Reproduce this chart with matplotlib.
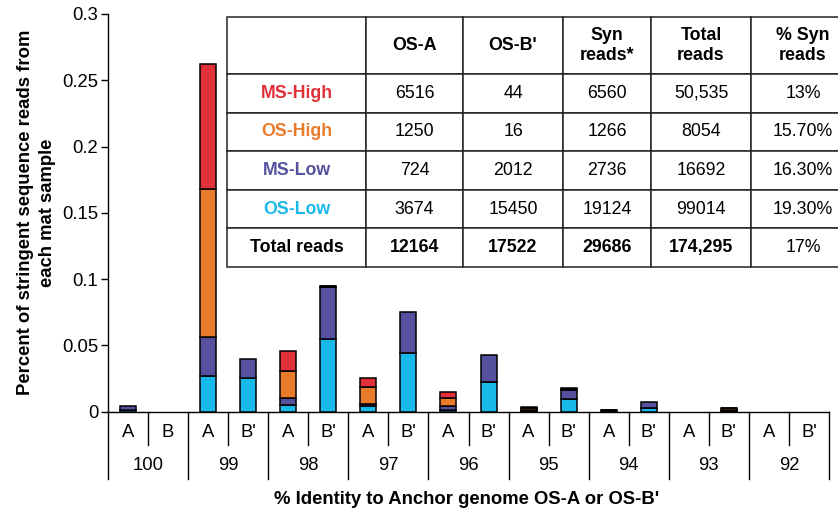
import matplotlib
matplotlib.use("Agg")
import matplotlib.pyplot as plt
import numpy as np

plt.rcParams['font.family'] = ['Liberation Sans', 'DejaVu Sans']

# bar slots, left to right
identity = ['100', '99', '98', '97', '96', '95', '94', '93', '92']
genome = ['A', 'B', 'A', "B'", 'A', "B'", 'A', "B'", 'A', "B'",
          'A', "B'", 'A', "B'", 'A', "B'", 'A', "B'"]

# stacked segments, bottom to top
os_low = [0.0008, 0, 0.0266, 0.025, 0.0047, 0.0547, 0.0038, 0.044, 0.0015,
          0.022, 0.0005, 0.0095, 0.0003, 0.0025, 0, 0.0005, 0, 0]
ms_low = [0.0032, 0, 0.030, 0.015, 0.0056, 0.039, 0.0022, 0.031, 0.003,
          0.021, 0.001, 0.007, 0.0005, 0.0045, 0, 0.001, 0, 0]
os_high = [0, 0, 0.111, 0, 0.020, 0.0008, 0.0126, 0, 0.0055,
           0, 0.0008, 0.0008, 0.0002, 0, 0, 0.0008, 0, 0]
ms_high = [0, 0, 0.095, 0, 0.015, 0.0004, 0.0064, 0, 0.005,
           0, 0.0008, 0.0004, 0.0002, 0, 0, 0.0003, 0, 0]

# inset table
samples = ['MS-High', 'OS-High', 'MS-Low', 'OS-Low']
col_heads = ['', 'OS-A', "OS-B'", 'Syn\nreads*', 'Total\nreads', '% Syn\nreads']
os_a_reads = ['6516', '1250', '724', '3674']
os_b_reads = ['44', '16', '2012', '15450']
syn_reads = ['6560', '1266', '2736', '19124']
total_reads = ['50,535', '8054', '16692', '99014']
pct_syn = ['13%', '15.70%', '16.30%', '19.30%']
total_row = ['Total reads', '12164', '17522', '29686', '174,295', '17%']

colors = {'OS-Low': '#18b9e9', 'MS-Low': '#55519f',
          'OS-High': '#ea7b2a', 'MS-High': '#e2303a'}

fs = 13.3

fig = plt.figure(figsize=(8.38, 5.13), dpi=100)
ax = fig.add_axes([108 / 838, 101.5 / 513, 721 / 838, 397.5 / 513])

x = np.arange(len(genome))
bottom = np.zeros(len(genome))
for name, vals in [('OS-Low', os_low), ('MS-Low', ms_low),
                   ('OS-High', os_high), ('MS-High', ms_high)]:
    vals = np.array(vals)
    keep = vals > 0
    ax.bar(x[keep], vals[keep], 0.4, bottom=bottom[keep], color=colors[name],
           edgecolor='black', linewidth=1.1, zorder=3)
    bottom += vals

ax.set_xlim(-0.5, len(genome) - 0.5)
ax.set_ylim(0, 0.3)
ax.set_yticks([0, 0.05, 0.1, 0.15, 0.2, 0.25, 0.3])
ax.set_yticklabels(['0', '0.05', '0.1', '0.15', '0.2', '0.25', '0.3'])
ax.tick_params(axis='y', labelsize=fs, length=5, width=1, pad=2)
ax.set_xticks([])
ax.spines['top'].set_visible(False)
ax.spines['right'].set_visible(False)
ax.spines['left'].set_linewidth(1)
ax.spines['bottom'].set_linewidth(1)

ax.set_ylabel('Percent of stringent sequence reads from\neach mat sample',
              fontsize=fs, fontweight='bold', labelpad=4, linespacing=1.4)

# two-level category axis below the bars
tr = ax.get_xaxis_transform()
for i in range(len(genome) + 1):
    edge = i - 0.5
    low = -0.170 if i % 2 == 0 else -0.084
    ax.plot([edge, edge], [0, low], color='black', lw=1,
            transform=tr, clip_on=False)
for i, g in enumerate(genome):
    ax.text(i, -0.052, g, transform=tr, ha='center', va='center',
            fontsize=fs)
for j, lab in enumerate(identity):
    ax.text(2 * j + 0.5, -0.137, lab, transform=tr, ha='center',
            va='center', fontsize=fs)

fig.text(467 / 838, 13 / 513, "% Identity to Anchor genome OS-A or OS-B'",
         ha='center', va='center', fontsize=fs, fontweight='bold')

# inset table
cell_text = [col_heads]
for k in range(4):
    cell_text.append([samples[k], os_a_reads[k], os_b_reads[k],
                      syn_reads[k], total_reads[k], pct_syn[k]])
cell_text.append(total_row)

col_w = [139, 97, 100, 88, 100, 104]
tab = ax.table(cellText=cell_text, cellLoc='center',
               bbox=[(227 - 108) / 721, (411.5 - 267) / 397.5,
                     sum(col_w) / 721, 250 / 397.5], zorder=5)
tab.auto_set_font_size(False)
for (r, c), cell in tab.get_celld().items():
    cell.set_width(col_w[c])
    cell.set_height(57 if r == 0 else 38.6)
    cell.set_linewidth(1.1)
    cell.set_edgecolor('#222222')
    cell.set_facecolor('white')
    txt = cell.get_text()
    txt.set_fontsize(12.8)
    txt.set_linespacing(1.2)
    if r == 0 or (r == 5 and c < 5) or (c == 0):
        txt.set_fontweight('bold')
    if 1 <= r <= 4 and c == 0:
        txt.set_color(colors[samples[r - 1]])
tab.set_clip_on(False)

fig.savefig('out.png', dpi=100)
